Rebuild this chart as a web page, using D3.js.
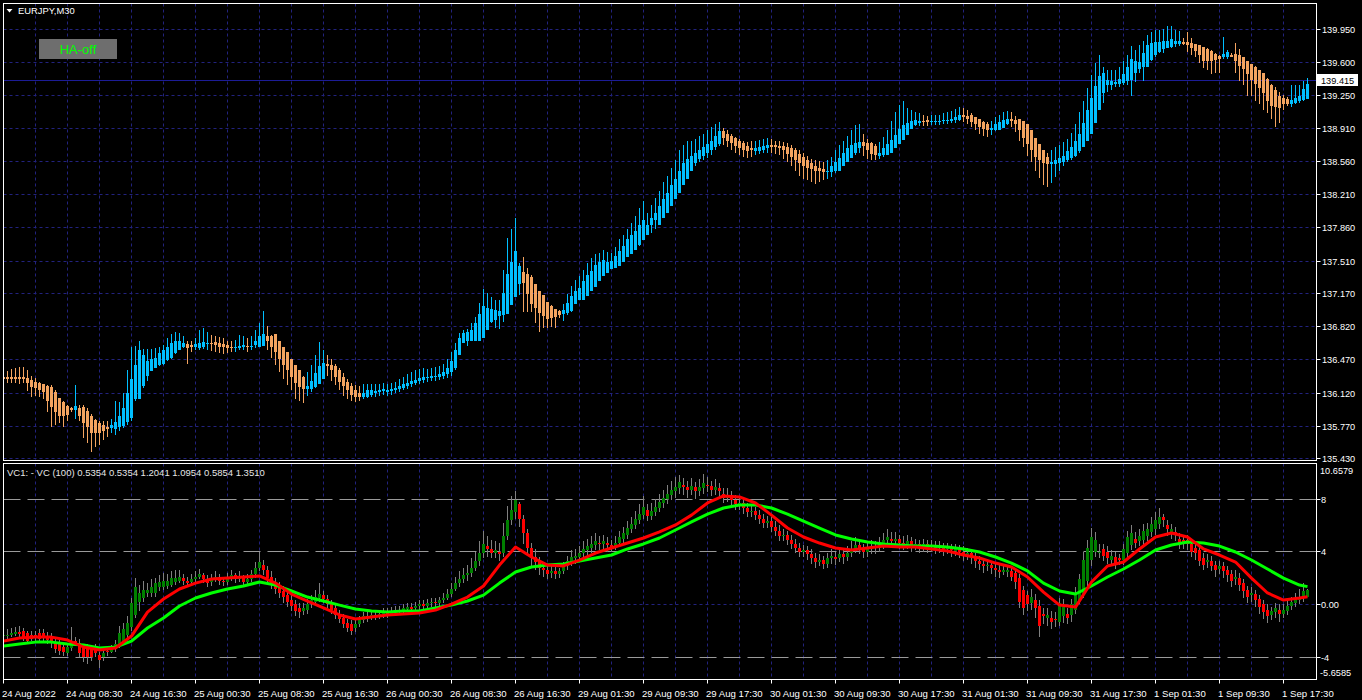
<!DOCTYPE html>
<html>
<head>
<meta charset="utf-8">
<script src="https://cdn.jsdelivr.net/npm/d3@7"></script>
<style>
html, body { margin: 0; padding: 0; background: #000; }
svg { display: block; font-family: "Liberation Sans", Arial, sans-serif; }
</style>
</head>
<body>
<svg id="chart" width="1362" height="700"></svg>
<script>
// ---- chart data (EURJPY M30, Heiken Ashi + VC indicator) ----
var symbolTitle = "EURJPY,M30";
var vcHeader = "VC1: - VC (100) 0.5354 0.5354 1.2041 1.0954 0.5854 1.3510";
var timeLabels = ["24 Aug 2022","24 Aug 08:30","24 Aug 16:30","25 Aug 00:30","25 Aug 08:30","25 Aug 16:30",
    "26 Aug 00:30","26 Aug 08:30","26 Aug 16:30","29 Aug 01:30","29 Aug 09:30","29 Aug 17:30",
    "30 Aug 01:30","30 Aug 09:30","30 Aug 17:30","31 Aug 01:30","31 Aug 09:30","31 Aug 17:30",
    "1 Sep 01:30","1 Sep 09:30","1 Sep 17:30"];
var priceTicks = [139.950,139.600,139.250,138.910,138.560,138.210,137.860,137.510,137.170,136.820,136.470,136.120,135.770,135.430];
var lastPrice = 139.415;
var vcRange = [-5.6585, 10.6579];
var vcTicks = [8, 4, 0, -4];
var vcTickLabels = ["8", "4", "0.00", "-4"];
var vcLevels = [8, 4, -4];

var haOpen = [
136.29,136.29,136.29,136.29,136.29,136.29,136.28,136.26,136.24,136.23,136.21,136.19,136.18,136.13,136.07,136.03,
135.98,135.96,135.94,135.96,135.97,135.93,135.88,135.84,135.80,135.78,135.76,135.75,135.74,135.76,135.77,135.81,
135.86,136.06,136.06,136.19,136.30,136.35,136.38,136.41,136.43,136.47,136.49,136.54,136.57,136.60,136.64,136.63,
136.61,136.59,136.61,136.64,136.65,136.66,136.65,136.64,136.63,136.61,136.60,136.59,136.60,136.62,136.61,136.63,
136.61,136.62,136.72,136.72,136.74,136.67,136.61,136.55,136.48,136.42,136.36,136.29,136.16,136.16,136.18,136.21,
136.27,136.43,136.42,136.40,136.36,136.29,136.24,136.19,136.15,136.12,136.08,136.08,136.10,136.13,136.14,136.14,
136.14,136.15,136.15,136.16,136.17,136.19,136.21,136.23,136.25,136.26,136.28,136.28,136.29,136.29,136.30,136.32,
136.34,136.38,136.52,136.65,136.67,136.67,136.67,136.67,136.70,136.78,136.87,136.89,136.93,136.94,136.95,137.05,
137.13,137.27,137.39,137.37,137.34,137.27,137.20,137.15,137.08,137.04,137.00,136.98,136.95,136.96,136.98,137.06,
137.10,137.10,137.14,137.19,137.24,137.30,137.35,137.38,137.43,137.44,137.46,137.50,137.55,137.58,137.63,137.68,
137.73,137.78,137.89,137.94,137.89,137.96,138.02,138.09,138.16,138.23,138.31,138.38,138.46,138.54,138.59,138.62,
138.65,138.68,138.71,138.74,138.88,138.85,138.83,138.81,138.78,138.75,138.72,138.70,138.67,138.67,138.68,138.70,
138.73,138.73,138.72,138.72,138.71,138.70,138.68,138.64,138.61,138.57,138.54,138.51,138.49,138.48,138.45,138.45,
138.46,138.46,138.51,138.55,138.60,138.65,138.70,138.76,138.75,138.75,138.72,138.62,138.63,138.63,138.65,138.70,
138.74,138.79,138.84,138.90,138.94,138.97,138.99,139.00,138.98,138.98,138.98,138.99,138.99,138.99,139.00,139.00,
139.05,139.04,139.05,139.03,139.01,138.98,138.95,138.89,138.89,138.89,138.91,138.95,139.01,139.00,139.01,138.99,
138.95,138.89,138.81,138.74,138.68,138.61,138.53,138.53,138.54,138.55,138.58,138.60,138.62,138.67,138.71,138.77,
138.85,138.97,139.10,139.28,139.36,139.36,139.38,139.38,139.39,139.41,139.42,139.49,139.53,139.55,139.56,139.63,
139.68,139.71,139.74,139.76,139.77,139.80,139.80,139.82,139.82,139.81,139.80,139.79,139.77,139.74,139.72,139.69,
139.67,139.66,139.66,139.68,139.69,139.68,139.66,139.62,139.59,139.56,139.52,139.49,139.43,139.36,139.31,139.25,
139.23,139.22,139.17,139.18,139.20,139.21,139.22];
var haClose = [
136.27,136.27,136.27,136.27,136.27,136.27,136.23,136.18,136.17,136.15,136.13,136.04,135.97,135.92,135.88,135.88,
135.89,135.94,135.98,135.88,135.80,135.76,135.70,135.70,135.70,135.72,135.74,135.78,135.81,135.88,135.96,136.12,
136.27,136.42,136.57,136.52,136.46,136.48,136.49,136.54,136.57,136.61,136.65,136.67,136.67,136.65,136.59,136.61,
136.64,136.65,136.66,136.65,136.64,136.63,136.61,136.60,136.59,136.60,136.61,136.62,136.63,136.61,136.62,136.67,
136.72,136.74,136.67,136.61,136.55,136.48,136.42,136.36,136.29,136.23,136.18,136.16,136.19,136.25,136.33,136.40,
136.44,136.40,136.36,136.29,136.24,136.19,136.15,136.10,136.08,136.08,136.12,136.15,136.15,136.14,136.15,136.16,
136.15,136.16,136.17,136.19,136.21,136.23,136.25,136.26,136.28,136.29,136.29,136.30,136.30,136.32,136.34,136.38,
136.46,136.57,136.70,136.75,136.76,136.78,136.86,136.95,137.04,137.02,137.00,136.99,136.98,137.17,137.37,137.50,
137.62,137.46,137.28,137.16,137.06,137.02,136.96,136.93,136.90,136.91,136.92,136.94,136.99,137.07,137.14,137.19,
137.23,137.30,137.36,137.41,137.47,137.50,137.52,137.50,137.51,137.56,137.62,137.67,137.74,137.78,137.83,137.89,
137.94,137.89,137.96,138.02,138.09,138.16,138.23,138.31,138.38,138.46,138.54,138.59,138.62,138.65,138.68,138.71,
138.74,138.78,138.83,138.88,138.81,138.78,138.75,138.72,138.70,138.68,138.67,138.68,138.70,138.71,138.72,138.73,
138.72,138.71,138.70,138.68,138.64,138.61,138.57,138.54,138.51,138.49,138.48,138.46,138.46,138.45,138.46,138.51,
138.55,138.60,138.65,138.70,138.73,138.75,138.76,138.72,138.68,138.64,138.63,138.65,138.70,138.74,138.79,138.84,
138.90,138.94,138.97,138.99,139.00,138.99,138.98,138.98,138.99,138.99,138.99,139.00,139.00,139.01,139.03,139.05,
139.03,139.01,138.98,138.95,138.92,138.90,138.89,138.91,138.95,138.98,139.00,139.01,138.99,138.95,138.89,138.81,
138.74,138.68,138.61,138.57,138.54,138.53,138.55,138.58,138.60,138.62,138.67,138.71,138.77,138.85,138.97,139.10,
139.23,139.35,139.46,139.49,139.42,139.41,139.40,139.43,139.48,139.56,139.64,139.62,139.61,139.70,139.79,139.81,
139.82,139.82,139.83,139.83,139.85,139.83,139.83,139.80,139.79,139.75,139.72,139.68,139.62,139.62,139.62,139.63,
139.64,139.69,139.71,139.67,139.62,139.57,139.53,139.48,139.42,139.38,139.33,139.28,139.20,139.14,139.13,139.12,
139.17,139.17,139.21,139.23,139.25,139.32,139.38];
var haHigh = [
136.36,136.35,136.37,136.38,136.39,136.39,136.36,136.30,136.28,136.24,136.22,136.20,136.20,136.15,136.07,136.04,
135.99,135.97,136.20,135.99,135.99,135.96,135.90,135.85,135.83,135.82,135.83,135.85,136.04,136.03,136.12,136.36,
136.61,136.62,136.67,136.58,136.58,136.58,136.59,136.61,136.63,136.70,136.74,136.76,136.75,136.72,136.67,136.67,
136.70,136.78,136.80,136.76,136.73,136.72,136.71,136.70,136.67,136.67,136.68,136.73,136.72,136.70,136.72,136.78,
136.86,136.98,136.83,136.73,136.70,136.62,136.57,136.52,136.46,136.40,136.34,136.30,136.34,136.41,136.52,136.66,
136.57,136.52,136.48,136.43,136.38,136.33,136.27,136.23,136.20,136.19,136.21,136.22,136.22,136.21,136.21,136.23,
136.22,136.23,136.24,136.27,136.29,136.32,136.34,136.36,136.37,136.38,136.37,136.38,136.39,136.40,136.43,136.48,
136.55,136.65,136.75,136.78,136.79,136.86,136.92,137.07,137.22,137.17,137.13,137.10,137.10,137.42,137.75,137.85,
137.96,137.49,137.55,137.44,137.36,137.27,137.20,137.15,137.08,137.05,137.01,136.99,137.06,137.16,137.25,137.31,
137.35,137.42,137.49,137.54,137.58,137.60,137.63,137.61,137.60,137.66,137.74,137.78,137.85,137.91,137.99,138.07,
138.14,138.02,138.10,138.17,138.25,138.34,138.41,138.49,138.57,138.68,138.73,138.78,138.78,138.80,138.83,138.85,
138.89,138.92,138.95,138.98,138.91,138.89,138.85,138.82,138.80,138.78,138.76,138.77,138.78,138.79,138.80,138.81,
138.80,138.78,138.77,138.76,138.75,138.73,138.70,138.68,138.65,138.62,138.59,138.57,138.56,138.55,138.57,138.61,
138.68,138.73,138.78,138.83,138.89,138.94,138.95,138.85,138.80,138.76,138.74,138.76,138.82,138.89,138.99,139.08,
139.15,139.20,139.12,139.10,139.08,139.07,139.05,139.04,139.05,139.05,139.05,139.07,139.08,139.09,139.11,139.13,
139.12,139.10,139.07,139.03,139.01,138.99,138.98,138.99,139.03,139.05,139.08,139.09,139.08,139.04,139.01,138.95,
138.89,138.82,138.76,138.72,138.68,138.65,138.68,138.71,138.73,138.76,138.80,138.86,138.95,139.08,139.20,139.33,
139.47,139.60,139.68,139.56,139.52,139.52,139.52,139.55,139.62,139.68,139.78,139.73,139.79,139.83,139.89,139.92,
139.94,139.94,139.96,139.99,139.99,139.95,139.93,139.86,139.92,139.86,139.80,139.78,139.76,139.75,139.73,139.70,
139.68,139.87,139.73,139.70,139.81,139.74,139.66,139.60,139.59,139.57,139.52,139.47,139.44,139.38,139.34,139.29,
139.26,139.24,139.37,139.37,139.36,139.41,139.44];
var haLow = [
136.22,136.23,136.23,136.23,136.22,136.23,136.14,136.08,136.09,136.08,136.06,135.92,135.76,135.78,135.80,135.76,
135.83,135.92,135.85,135.83,135.65,135.59,135.50,135.55,135.57,135.62,135.66,135.70,135.68,135.72,135.75,135.78,
135.83,136.04,136.06,136.17,136.25,136.35,136.38,136.40,136.42,136.46,136.48,136.53,136.57,136.59,136.43,136.55,
136.57,136.57,136.58,136.57,136.56,136.55,136.54,136.53,136.54,136.55,136.55,136.57,136.57,136.55,136.57,136.59,
136.62,136.65,136.57,136.49,136.41,136.34,136.27,136.20,136.15,136.06,136.04,136.02,136.09,136.13,136.17,136.21,
136.27,136.30,136.25,136.20,136.15,136.09,136.06,136.04,136.03,136.04,136.06,136.07,136.08,136.08,136.09,136.10,
136.09,136.10,136.12,136.13,136.15,136.16,136.18,136.20,136.22,136.23,136.24,136.25,136.25,136.26,136.27,136.28,
136.30,136.36,136.62,136.65,136.62,136.67,136.67,136.67,136.70,136.78,136.86,136.81,136.79,136.87,136.96,137.05,
137.13,137.15,136.97,136.97,136.97,136.86,136.76,136.80,136.81,136.82,136.81,136.91,136.88,136.94,136.97,137.06,
137.11,137.10,137.14,137.19,137.24,137.30,137.35,137.38,137.43,137.44,137.46,137.50,137.55,137.58,137.63,137.67,
137.73,137.78,137.81,137.85,137.92,137.98,138.04,138.13,138.19,138.25,138.33,138.41,138.46,138.51,138.55,138.57,
138.60,138.63,138.68,138.72,138.73,138.71,138.68,138.65,138.63,138.61,138.60,138.61,138.63,138.64,138.65,138.65,
138.65,138.64,138.63,138.59,138.55,138.51,138.46,138.41,138.38,138.36,138.34,138.32,138.34,138.36,138.38,138.40,
138.44,138.49,138.54,138.57,138.60,138.63,138.65,138.62,138.59,138.57,138.57,138.59,138.61,138.65,138.68,138.73,
138.78,138.82,138.87,138.91,138.93,138.93,138.93,138.93,138.94,138.94,138.94,138.95,138.95,138.96,138.97,138.99,
138.98,138.95,138.92,138.89,138.85,138.83,138.82,138.84,138.88,138.91,138.93,138.94,138.92,138.87,138.78,138.71,
138.62,138.55,138.46,138.39,138.31,138.29,138.33,138.40,138.46,138.51,138.55,138.57,138.61,138.65,138.72,138.80,
138.91,139.04,139.20,139.18,139.29,139.31,139.34,139.34,139.36,139.36,139.25,139.40,139.49,139.41,139.55,139.62,
139.66,139.70,139.70,139.75,139.76,139.77,139.78,139.79,139.71,139.68,139.66,139.60,139.54,139.52,139.48,139.49,
139.49,139.64,139.64,139.66,139.49,139.41,139.36,139.25,139.25,139.20,139.17,139.10,139.07,139.01,138.92,138.96,
139.10,139.14,139.13,139.16,139.18,139.20,139.22];

var vcOpen = [
-2.4,-2.4,-2.3,-2.2,-2.1,-2.0,-2.2,-2.3,-2.3,-2.2,-2.2,-2.4,-2.5,-2.9,-3.0,-3.2,
-3.7,-3.3,-2.8,-2.9,-3.2,-3.2,-3.3,-3.3,-3.8,-4.0,-3.5,-3.6,-3.4,-3.1,-2.9,-2.3,
-1.7,-0.8,0.2,0.5,0.9,0.9,0.9,1.3,1.3,1.4,1.5,1.7,1.8,2.0,1.8,1.7,
1.9,2.1,2.2,1.9,1.7,1.9,2.1,1.8,1.7,2.0,2.2,1.9,2.0,1.7,1.9,2.3,
2.8,3.0,2.6,2.1,1.6,1.3,1.0,0.7,0.3,0.0,-0.3,-0.5,-0.4,0.0,0.2,0.5,
0.7,0.4,0.0,-0.3,-0.7,-1.0,-1.4,-1.5,-1.8,-1.5,-1.2,-0.9,-1.0,-0.8,-0.9,-0.7,
-0.6,-0.7,-0.5,-0.4,-0.5,-0.3,-0.2,-0.3,-0.1,0.0,-0.1,0.1,0.2,0.1,0.3,0.5,
0.8,1.2,1.6,1.9,2.2,2.4,2.8,3.3,3.9,4.4,4.2,3.9,4.0,3.9,5.2,6.4,
7.0,7.6,6.5,5.4,4.3,3.6,3.2,2.8,2.6,2.4,2.5,2.3,2.5,2.9,3.2,3.5,
3.6,3.9,4.1,4.3,4.5,4.7,4.6,4.7,4.5,4.4,4.7,5.0,5.3,5.7,6.0,6.4,
6.8,7.2,6.7,7.0,7.3,7.7,8.0,8.3,8.6,8.8,9.1,8.9,8.7,8.9,8.6,8.8,
9.1,9.0,8.7,8.8,8.4,8.1,8.3,7.9,7.6,7.7,7.3,7.0,7.1,6.8,6.5,6.2,
6.3,5.9,5.6,5.2,5.3,4.9,4.6,4.3,4.0,4.1,3.8,3.5,3.2,3.4,3.1,3.5,
3.6,3.5,3.8,3.6,3.9,4.2,4.5,4.3,4.0,4.2,4.4,4.3,4.6,4.9,5.0,4.8,
5.0,4.7,4.6,4.8,4.5,4.6,4.4,4.6,4.4,4.5,4.3,4.4,4.2,4.3,4.1,4.2,
4.0,3.8,3.9,3.6,3.3,3.1,2.9,3.0,2.8,2.6,2.5,2.5,2.5,2.4,2.0,1.1,
0.7,0.1,0.3,-0.1,-0.7,-1.0,-1.0,-1.1,-1.3,-0.9,-0.7,-0.8,-0.4,0.3,0.8,1.8,
3.4,4.0,3.9,4.2,4.0,3.4,3.6,3.5,3.4,3.9,4.5,5.0,4.8,4.9,5.2,5.5,
5.7,6.1,6.6,6.0,5.4,5.5,5.0,4.9,4.9,4.6,4.3,4.1,3.5,3.2,3.3,3.0,
2.7,2.9,2.6,2.3,1.9,2.0,1.6,1.1,0.7,0.8,0.4,0.0,-0.4,-0.8,-0.6,-0.4,
-0.7,-0.5,-0.1,0.1,0.3,0.5,0.54];
var vcClose = [
-2.3,-2.3,-2.2,-2.1,-2.2,-2.6,-2.8,-2.6,-2.5,-2.6,-2.5,-2.7,-2.9,-3.4,-3.5,-3.6,
-3.2,-2.9,-2.9,-3.7,-4.0,-4.0,-4.0,-3.7,-4.2,-3.7,-3.6,-3.4,-3.0,-2.2,-1.9,-1.4,
0.1,1.3,0.9,1.1,1.1,1.3,1.6,1.7,1.8,1.8,2.0,2.0,2.1,1.8,1.6,1.9,
2.1,2.3,1.9,1.6,1.9,2.1,1.8,1.7,2.0,2.2,1.9,2.1,1.7,1.9,2.3,2.8,
3.2,2.6,2.0,1.6,1.2,0.9,0.6,0.2,-0.1,-0.5,-0.6,-0.3,0.0,0.3,0.6,0.8,
0.4,0.0,-0.4,-0.8,-1.1,-1.5,-1.8,-2.0,-1.5,-1.2,-0.9,-1.0,-0.8,-0.9,-0.7,-0.6,
-0.7,-0.5,-0.4,-0.5,-0.3,-0.2,-0.3,-0.1,0.0,-0.1,0.1,0.2,0.1,0.3,0.5,0.8,
1.2,1.6,1.9,2.2,2.4,2.8,3.3,3.9,4.6,4.2,3.9,4.1,3.8,5.2,6.4,7.2,
7.9,6.5,5.4,4.3,3.6,3.2,2.8,2.6,2.3,2.5,2.3,2.5,2.9,3.3,3.6,3.7,
3.9,4.2,4.4,4.6,4.8,4.6,4.8,4.5,4.4,4.7,5.1,5.4,5.8,6.1,6.5,6.9,
7.4,6.7,7.1,7.4,7.8,8.1,8.4,8.7,8.9,9.3,8.9,8.7,9.0,8.6,8.9,9.2,
9.0,8.7,8.9,8.6,8.1,8.3,7.9,7.6,7.7,7.3,7.0,7.1,6.8,6.5,6.2,6.3,
5.9,5.6,5.2,5.3,4.9,4.6,4.3,4.0,4.1,3.8,3.5,3.2,3.4,3.1,3.5,3.7,
3.5,3.8,3.6,3.9,4.2,4.5,4.3,4.0,4.2,4.4,4.3,4.6,4.9,5.1,4.8,5.0,
4.7,4.6,4.8,4.5,4.6,4.4,4.6,4.4,4.5,4.3,4.4,4.2,4.3,4.1,4.2,4.0,
3.8,3.9,3.6,3.3,3.1,2.9,3.0,2.8,2.6,2.5,2.6,2.6,2.1,1.7,0.2,-0.3,
0.0,0.6,-0.3,-1.6,-0.9,-0.8,-1.3,-1.2,0.1,-0.2,-1.0,0.0,0.9,1.9,3.4,4.3,
5.1,4.9,4.0,3.7,3.5,3.7,3.1,3.4,4.2,5.1,5.4,4.7,5.2,5.6,5.7,6.1,
6.4,6.6,6.4,5.7,5.7,5.3,4.7,4.6,4.6,4.0,3.9,3.3,3.0,3.4,2.9,2.6,
2.9,2.5,2.2,1.8,2.1,1.5,1.0,0.6,0.9,0.3,-0.2,-0.6,-0.9,-0.5,-0.3,-0.7,
-0.4,-0.1,0.2,0.4,0.6,1.0,1.10];
var vcHigh = [
-2.0,-1.9,-1.8,-1.7,-1.6,-1.8,-2.0,-2.0,-2.0,-1.9,-1.9,-2.1,-2.2,-2.5,-2.6,-2.9,
-3.0,-1.7,-2.5,-2.6,-3.0,-3.0,-3.1,-3.0,-3.6,-3.5,-3.2,-3.1,-2.7,-1.6,-1.4,-0.9,
0.5,2.0,1.5,1.8,1.6,1.9,2.0,2.2,2.4,2.3,2.5,2.6,2.6,2.3,2.1,2.3,
2.5,2.7,2.4,2.2,2.3,2.5,2.3,2.1,2.4,2.6,2.4,2.5,2.2,2.3,2.6,3.2,
4.0,3.4,2.9,2.5,2.0,1.7,1.4,1.0,0.7,0.3,0.1,0.1,0.4,0.7,1.1,1.6,
1.0,0.7,0.3,0.0,-0.4,-0.7,-1.1,-1.2,-1.2,-0.9,-0.6,-0.6,-0.5,-0.5,-0.4,-0.3,
-0.3,-0.2,-0.1,-0.1,0.0,0.1,0.1,0.2,0.3,0.3,0.4,0.5,0.5,0.6,0.9,1.2,
1.6,2.1,2.5,2.8,3.0,3.5,4.0,4.8,5.6,5.2,4.9,4.8,4.7,6.2,7.5,8.2,
8.6,7.8,6.8,5.7,4.7,4.2,3.6,3.2,3.0,2.9,2.9,2.8,3.2,3.7,4.1,4.2,
4.4,4.8,5.0,5.2,5.4,5.2,5.3,5.1,4.9,5.2,5.6,5.9,6.3,6.6,7.1,7.6,
8.2,7.6,7.7,8.0,8.4,8.7,9.1,9.4,9.7,9.8,9.6,9.4,9.6,9.3,9.5,9.9,
9.7,9.4,9.5,9.2,8.8,8.8,8.6,8.3,8.1,8.0,7.7,7.5,7.4,7.2,6.9,6.7,
6.6,6.3,6.0,5.7,5.6,5.3,5.0,4.7,4.5,4.4,4.2,3.9,3.8,3.7,3.9,4.2,
4.0,4.3,4.1,4.4,4.8,5.1,4.9,4.6,4.7,4.9,4.8,5.1,5.4,5.7,5.5,5.5,
5.3,5.2,5.3,5.1,5.0,4.9,5.0,4.9,4.9,4.8,4.8,4.7,4.7,4.6,4.6,4.5,
4.4,4.3,4.2,3.9,3.7,3.5,3.4,3.3,3.2,3.0,3.1,3.0,2.9,2.7,2.3,1.4,
1.0,1.2,0.8,0.3,-0.3,-0.3,-0.5,-0.6,0.5,0.4,-0.3,0.4,1.3,2.3,4.0,4.9,
5.8,5.5,4.6,4.6,4.4,4.1,4.0,3.8,4.6,5.6,6.0,5.5,5.7,6.1,6.2,6.6,
7.0,7.3,6.9,6.4,6.1,5.9,5.4,5.3,5.3,5.0,4.7,4.5,3.9,3.8,3.7,3.3,
3.3,3.2,2.9,2.6,2.6,2.4,1.9,1.4,1.3,1.1,0.7,0.3,0.0,-0.2,0.1,0.0,
0.0,0.3,0.6,0.9,1.2,1.6,1.20];
var vcLow = [
-2.6,-2.6,-2.5,-2.4,-2.5,-2.8,-3.0,-2.8,-2.8,-2.9,-2.8,-3.0,-3.3,-3.7,-3.8,-3.9,
-3.9,-3.5,-3.1,-4.0,-4.4,-4.5,-4.3,-4.0,-4.8,-4.3,-3.9,-3.7,-3.6,-3.3,-3.1,-2.6,
-2.0,-1.0,-0.5,0.2,0.6,0.6,0.6,1.0,1.1,1.2,1.3,1.5,1.6,1.5,1.3,1.5,
1.6,1.9,1.6,1.3,1.4,1.7,1.5,1.4,1.5,1.8,1.6,1.7,1.4,1.4,1.7,2.0,
2.5,2.2,1.7,1.2,0.8,0.5,0.1,-0.2,-0.5,-0.9,-1.0,-0.8,-0.7,-0.3,0.0,0.2,
0.1,-0.3,-0.7,-1.1,-1.4,-1.8,-2.1,-2.3,-2.1,-1.7,-1.4,-1.3,-1.2,-1.2,-1.1,-1.0,
-1.0,-0.9,-0.8,-0.8,-0.7,-0.6,-0.6,-0.5,-0.4,-0.4,-0.3,-0.2,-0.2,-0.1,0.1,0.3,
0.6,1.0,1.3,1.6,1.8,2.1,2.5,2.9,3.5,3.6,3.5,3.5,3.3,3.6,4.9,6.0,
6.5,5.9,4.6,3.7,2.9,2.6,2.2,2.1,1.9,2.0,1.9,2.0,2.3,2.6,2.9,3.1,
3.2,3.5,3.7,3.9,4.1,4.1,4.2,4.0,4.0,4.1,4.4,4.7,5.0,5.4,5.7,6.1,
6.5,6.3,6.4,6.7,7.0,7.3,7.6,7.9,8.1,8.4,8.3,8.1,8.3,8.0,8.2,8.4,
8.5,8.2,8.3,8.1,7.7,7.8,7.5,7.2,7.2,6.9,6.6,6.6,6.4,6.1,5.8,5.8,
5.5,5.2,4.8,4.8,4.5,4.2,3.9,3.6,3.6,3.4,3.1,2.8,2.9,2.7,2.8,3.1,
3.0,3.2,3.1,3.3,3.6,3.9,3.8,3.5,3.6,3.8,3.8,4.0,4.2,4.4,4.3,4.4,
4.2,4.1,4.2,4.0,4.1,3.9,4.0,3.9,4.0,3.8,3.9,3.7,3.8,3.6,3.7,3.5,
3.3,3.4,3.1,2.8,2.6,2.4,2.5,2.3,2.1,2.0,2.2,2.1,1.8,1.2,-0.3,-0.8,
-0.5,-0.4,-1.0,-2.5,-1.5,-1.6,-1.9,-1.7,-1.6,-1.4,-1.5,-1.3,-0.7,0.0,0.5,1.4,
2.9,3.6,3.5,3.3,3.1,3.0,2.7,3.0,3.0,3.5,4.1,4.3,4.4,4.5,4.8,5.1,
5.3,5.7,5.9,5.2,5.0,4.8,4.2,4.2,4.1,3.6,3.4,2.9,2.6,2.8,2.5,2.1,
2.3,2.0,1.7,1.3,1.5,1.0,0.5,0.1,0.2,-0.2,-0.7,-1.1,-1.4,-1.2,-1.0,-1.3,
-1.0,-0.8,-0.4,-0.2,0.0,0.2,0.54];

// moving-average lines of the VC panel, read every 4th bar (0,4,...,324) plus the last bar
var vcRed = [
-2.78,-2.55,-2.48,-2.48,-2.70,-3.23,-3.46,-3.31,-2.40,-0.58,0.41,1.17,1.62,1.93,2.00,2.08,
2.16,1.62,0.79,0.26,-0.27,-0.80,-1.11,-0.96,-0.80,-0.73,-0.65,-0.43,0.03,0.56,1.40,2.99,
4.36,3.60,2.99,2.92,3.37,3.90,4.28,4.66,5.04,5.50,6.03,6.78,7.70,8.23,8.16,7.70,
6.78,5.80,5.12,4.66,4.28,4.13,4.28,4.43,4.36,4.36,4.21,4.05,3.75,3.52,3.14,2.84,
2.08,0.94,-0.05,-0.20,1.70,2.92,3.22,4.21,5.12,5.42,5.12,4.21,3.75,3.22,2.00,0.87,
0.33,0.49,0.59];
var vcGreen = [
-3.16,-3.01,-2.86,-2.86,-3.01,-3.08,-3.31,-3.23,-2.78,-1.79,-1.03,-0.12,0.49,0.87,1.17,1.40,
1.70,1.47,1.02,0.56,0.26,-0.05,-0.35,-0.50,-0.58,-0.50,-0.50,-0.27,-0.05,0.26,0.71,1.62,
2.46,2.84,2.99,3.07,3.30,3.52,3.75,4.21,4.59,5.04,5.65,6.26,6.86,7.32,7.55,7.55,
7.32,6.86,6.33,5.80,5.27,4.97,4.74,4.59,4.51,4.43,4.43,4.36,4.21,3.98,3.60,3.14,
2.54,1.62,1.02,0.79,1.40,2.08,2.69,3.37,4.13,4.51,4.74,4.66,4.43,3.98,3.37,2.69,
2.00,1.47,1.35];

// ---- colours ----
var upColor = "#00bfff", downColor = "#f4a460";
var vcUp = "#008000", vcDown = "#ff0000", wickGray = "#808080";
var gridColor = "#22227e";

var svg = d3.select("#chart");
var left = 3.5, right = 1316.5;
var mainTop = 3.5, mainBottom = 460.5, subTop = 463.5, subBottom = 679.5;

svg.append("rect").attr("width", 1362).attr("height", 700).attr("fill", "#000");

var defs = svg.append("defs");
defs.append("clipPath").attr("id", "clipMain").append("rect")
    .attr("x", 4).attr("y", 4).attr("width", right - 4).attr("height", mainBottom - 4);
defs.append("clipPath").attr("id", "clipSub").append("rect")
    .attr("x", 4).attr("y", subTop + 0.5).attr("width", right - 4).attr("height", subBottom - subTop - 1);

// bar i is centred on 3.5 + 4*i
var x = d3.scaleLinear().domain([0, 1]).range([3.5, 7.5]);
var y = d3.scaleLinear().domain([135.430, 139.950]).range([458.5, 29.5]);
var yv = d3.scaleLinear().domain(vcRange).range([679, 464]);

function crisp(v) { return Math.floor(v) + 0.5; }

var ha = haClose.map(function(c, i) {
    var o = haOpen[i];
    return {i: i, o: o, c: c, h: Math.max(haHigh[i], o, c), l: Math.min(haLow[i], o, c)};
});
var vc = vcClose.map(function(c, i) {
    return {i: i, o: vcOpen[i], c: c, h: Math.max(vcHigh[i], vcOpen[i], c), l: Math.min(vcLow[i], vcOpen[i], c)};
});

var gridBars = d3.range(8, 328, 8);
var labelBars = timeLabels.map(function(d, i) { return i * 16; });

// ---------- main panel ----------
var gMain = svg.append("g").attr("clip-path", "url(#clipMain)");

gMain.selectAll(".hgrid").data(priceTicks).enter().append("line")
    .attr("x1", left).attr("x2", right)
    .attr("y1", function(d) { return crisp(y(d)); })
    .attr("y2", function(d) { return crisp(y(d)); })
    .attr("stroke", gridColor).attr("stroke-dasharray", "3,3");
gMain.selectAll(".vgrid").data(gridBars).enter().append("line")
    .attr("x1", function(d) { return crisp(x(d)); })
    .attr("x2", function(d) { return crisp(x(d)); })
    .attr("y1", mainTop).attr("y2", mainBottom)
    .attr("stroke", gridColor).attr("stroke-dasharray", "3,3");

gMain.append("line")
    .attr("x1", left).attr("x2", right)
    .attr("y1", crisp(y(lastPrice))).attr("y2", crisp(y(lastPrice)))
    .attr("stroke", "#1c1c96");

var candles = gMain.append("g").attr("shape-rendering", "crispEdges");
candles.selectAll(".wick").data(ha).enter().append("line")
    .attr("x1", function(d) { return x(d.i); })
    .attr("x2", function(d) { return x(d.i); })
    .attr("y1", function(d) { return y(d.h); })
    .attr("y2", function(d) { return y(d.l); })
    .attr("stroke", function(d) { return d.c >= d.o ? upColor : downColor; });
candles.selectAll(".body").data(ha).enter().append("rect")
    .attr("x", function(d) { return x(d.i) - 1.5; })
    .attr("width", 3)
    .attr("y", function(d) { return y(Math.max(d.o, d.c)); })
    .attr("height", function(d) { return Math.max(1.5, Math.abs(y(d.o) - y(d.c))); })
    .attr("fill", function(d) { return d.c >= d.o ? upColor : downColor; });

// ---------- VC panel ----------
var gSub = svg.append("g").attr("clip-path", "url(#clipSub)");

gSub.selectAll(".vgrid").data(gridBars).enter().append("line")
    .attr("x1", function(d) { return crisp(x(d)); })
    .attr("x2", function(d) { return crisp(x(d)); })
    .attr("y1", subTop).attr("y2", subBottom)
    .attr("stroke", gridColor).attr("stroke-dasharray", "3,3");
gSub.append("line")
    .attr("x1", left).attr("x2", right)
    .attr("y1", crisp(yv(0))).attr("y2", crisp(yv(0)))
    .attr("stroke", gridColor).attr("stroke-dasharray", "3,3");
gSub.selectAll(".level").data(vcLevels).enter().append("line")
    .attr("x1", left).attr("x2", right)
    .attr("y1", function(d) { return crisp(yv(d)); })
    .attr("y2", function(d) { return crisp(yv(d)); })
    .attr("stroke", "#9a9a9a").attr("stroke-dasharray", "17,7");

var vcCandles = gSub.append("g").attr("shape-rendering", "crispEdges");
vcCandles.selectAll(".wick").data(vc).enter().append("line")
    .attr("x1", function(d) { return x(d.i); })
    .attr("x2", function(d) { return x(d.i); })
    .attr("y1", function(d) { return yv(d.h); })
    .attr("y2", function(d) { return yv(d.l); })
    .attr("stroke", wickGray);
vcCandles.selectAll(".body").data(vc).enter().append("rect")
    .attr("x", function(d) { return x(d.i) - 1.5; })
    .attr("width", 3)
    .attr("y", function(d) { return yv(Math.max(d.o, d.c)); })
    .attr("height", function(d) { return Math.max(1.5, Math.abs(yv(d.o) - yv(d.c))); })
    .attr("fill", function(d) { return d.c >= d.o ? vcUp : vcDown; });

var lineBars = d3.range(0, 325, 4).concat([326]);
var vcLine = d3.line()
    .x(function(d) { return x(d.b); })
    .y(function(d) { return yv(d.v); });
gSub.append("path")
    .attr("d", vcLine(vcGreen.map(function(v, k) { return {b: lineBars[k], v: v}; })))
    .attr("fill", "none").attr("stroke", "#00ff00").attr("stroke-width", 3).attr("stroke-linejoin", "round");
gSub.append("path")
    .attr("d", vcLine(vcRed.map(function(v, k) { return {b: lineBars[k], v: v}; })))
    .attr("fill", "none").attr("stroke", "#ff0000").attr("stroke-width", 3).attr("stroke-linejoin", "round");

// ---------- frames ----------
svg.append("rect").attr("x", left).attr("y", mainTop)
    .attr("width", right - left).attr("height", mainBottom - mainTop)
    .attr("fill", "none").attr("stroke", "#fff");
svg.append("rect").attr("x", left).attr("y", subTop)
    .attr("width", right - left).attr("height", subBottom - subTop)
    .attr("fill", "none").attr("stroke", "#fff");

// ---------- price axis ----------
var fmt3 = d3.format(".3f");
svg.selectAll(".ptick").data(priceTicks).enter().append("line")
    .attr("x1", right).attr("x2", right + 4)
    .attr("y1", function(d) { return crisp(y(d)); })
    .attr("y2", function(d) { return crisp(y(d)); })
    .attr("stroke", "#fff");
svg.selectAll(".plabel").data(priceTicks).enter().append("text")
    .attr("x", 1322).attr("y", function(d) { return y(d) + 3.5; })
    .attr("fill", "#fff").attr("font-size", "9.2px")
    .text(function(d) { return fmt3(d); });

svg.append("rect").attr("x", 1317).attr("y", crisp(y(lastPrice)) - 6.5)
    .attr("width", 41).attr("height", 12).attr("fill", "#fff");
svg.append("text").attr("x", 1321).attr("y", y(lastPrice) + 3.5)
    .attr("fill", "#000").attr("font-size", "9.2px").text(fmt3(lastPrice));

// ---------- VC axis ----------
svg.selectAll(".vtick").data(vcTicks).enter().append("line")
    .attr("x1", right).attr("x2", right + 4)
    .attr("y1", function(d) { return crisp(yv(d)); })
    .attr("y2", function(d) { return crisp(yv(d)); })
    .attr("stroke", "#fff");
svg.selectAll(".vlabel").data(vcTicks).enter().append("text")
    .attr("x", 1321).attr("y", function(d) { return yv(d) + 3.5; })
    .attr("fill", "#fff").attr("font-size", "9.2px")
    .text(function(d, i) { return vcTickLabels[i]; });
svg.append("text").attr("x", 1320).attr("y", yv(vcRange[1]) + 10)
    .attr("fill", "#fff").attr("font-size", "9.2px").text(vcRange[1].toFixed(4));
svg.append("text").attr("x", 1320).attr("y", yv(vcRange[0]) - 3)
    .attr("fill", "#fff").attr("font-size", "9.2px").text(vcRange[0].toFixed(4));

// ---------- time axis ----------
svg.selectAll(".ttick").data(labelBars).enter().append("line")
    .attr("x1", function(d) { return crisp(x(d)); })
    .attr("x2", function(d) { return crisp(x(d)); })
    .attr("y1", subBottom).attr("y2", subBottom + 4)
    .attr("stroke", "#fff");
svg.selectAll(".tlabel").data(timeLabels).enter().append("text")
    .attr("x", function(d, i) { return x(labelBars[i]) - 1.5; })
    .attr("y", 697)
    .attr("fill", "#fff").attr("font-size", "9.6px")
    .text(function(d) { return d; });

// ---------- titles ----------
svg.append("path").attr("d", "M6.5,9 L12.5,9 L9.5,12.5 Z").attr("fill", "#fff");
svg.append("text").attr("x", 18).attr("y", 14)
    .attr("fill", "#fff").attr("font-size", "9.4px").text(symbolTitle);

svg.append("rect").attr("x", 39).attr("y", 39).attr("width", 78).attr("height", 20).attr("fill", "#6e6e6e");
svg.append("text").attr("x", 78).attr("y", 54).attr("text-anchor", "middle")
    .attr("fill", "#00ff00").attr("font-size", "13px").text("HA-off");

svg.append("text").attr("x", 7).attr("y", 476)
    .attr("fill", "#e6e6e6").attr("font-size", "9.5px").text(vcHeader);
</script>
</body>
</html>
